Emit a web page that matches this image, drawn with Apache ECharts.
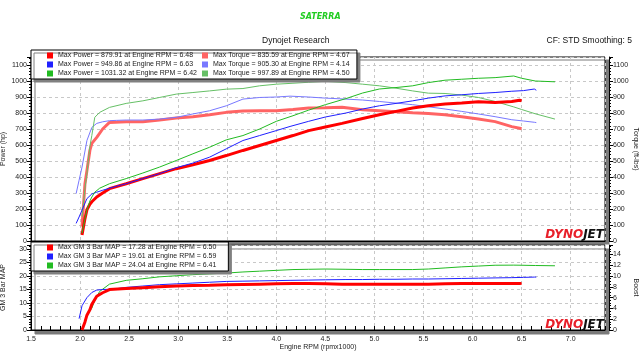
<!DOCTYPE html>
<html>
<head>
<meta charset="utf-8">
<script src="https://cdn.jsdelivr.net/npm/echarts@6/dist/echarts.min.js"></script>
<style>
  html, body { margin: 0; padding: 0; background: #fff; }
  #chart { width: 640px; height: 360px; }
</style>
</head>
<body>
<div id="chart"></div>
<script>
// run 1 (red)
const rpmRed = [2.02, 2.05, 2.07, 2.10, 2.12, 2.17, 2.23, 2.30, 2.47, 2.64, 2.81, 2.98, 3.15, 3.32, 3.49, 3.66, 3.83, 4.00, 4.17, 4.33, 4.50, 4.67, 4.88, 5.05, 5.22, 5.39, 5.55, 5.72, 5.89, 6.06, 6.23, 6.40, 6.48, 6.50]
const powerRed = [37, 140, 195, 230, 245, 275, 300, 327, 358, 390, 421, 452, 477, 503, 534, 566, 597, 628, 659, 690, 713, 735, 766, 789, 810, 831, 845, 856, 862, 870, 866, 872, 879.91, 876]
const torqueRed = [90, 358, 440, 566, 610, 648, 700, 741, 746, 746, 756, 769, 777, 789, 804, 812, 814, 814, 822, 831, 833, 835.59, 820, 814, 808, 802, 797, 789, 777, 762, 746, 715, 705, 702]
const mapRed = [0, 3, 5.5, 7.5, 9.5, 12.5, 13.8, 15.0, 15.4, 15.7, 16.0, 16.3, 16.5, 16.6, 16.8, 16.9, 17.0, 17.1, 17.2, 17.2, 17.1, 17.0, 17.0, 17.0, 17.0, 17.0, 17.0, 17.1, 17.2, 17.2, 17.2, 17.2, 17.2, 17.28]

// run 2 (blue)
const rpmBlue = [1.96, 1.99, 2.02, 2.07, 2.12, 2.17, 2.23, 2.30, 2.37, 2.47, 2.64, 2.81, 2.98, 3.15, 3.32, 3.49, 3.66, 3.83, 4.00, 4.14, 4.33, 4.50, 4.71, 4.88, 5.05, 5.22, 5.39, 5.55, 5.72, 5.89, 6.06, 6.23, 6.40, 6.52, 6.63, 6.65]
const powerBlue = [110, 150, 193, 265, 294, 305, 317, 330, 342, 358, 390, 421, 458, 487, 524, 576, 628, 659, 690, 716, 748, 775, 800, 825, 845, 860, 876, 893, 907, 914, 922, 928, 936, 940, 949.86, 942]
const torqueBlue = [296, 380, 462, 628, 710, 735, 745, 752, 754, 756, 756, 762, 773, 794, 814, 845, 887, 897, 900, 905.30, 900, 893, 887, 881, 872, 862, 852, 839, 825, 810, 794, 777, 758, 750, 742, 740]
const mapBlue = [null, 4.2, 9.0, 12.0, 13.9, 14.8, 15.0, 15.1, 15.3, 15.8, 16.3, 16.8, 17.1, 17.4, 17.7, 18.0, 18.1, 18.2, 18.3, 18.4, 18.5, 18.6, 18.7, 18.7, 18.8, 18.8, 18.9, 18.9, 19.0, 19.1, 19.2, 19.3, 19.4, 19.5, 19.61, 19.6]

// run 3 (green)
const rpmGreen = [2.02, 2.05, 2.07, 2.10, 2.12, 2.15, 2.20, 2.30, 2.47, 2.64, 2.81, 2.98, 3.15, 3.32, 3.49, 3.66, 3.83, 4.00, 4.17, 4.33, 4.50, 4.71, 4.88, 5.05, 5.22, 5.39, 5.55, 5.72, 5.89, 6.06, 6.23, 6.42, 6.50, 6.64, 6.84]
const powerGreen = [48, 140, 193, 250, 275, 305, 330, 358, 390, 425, 462, 503, 545, 586, 632, 659, 700, 748, 783, 818, 852, 890, 925, 950, 959, 970, 990, 1005, 1011, 1017, 1021, 1031.32, 1017, 1000, 995]
const torqueGreen = [151, 330, 420, 590, 660, 773, 804, 835, 860, 876, 897, 918, 928, 938, 949, 953, 970, 980, 986, 992, 997.89, 990, 980, 970, 955, 938, 924, 922, 912, 897, 872, 838, 822, 795, 762]
const mapGreen = [0, 3, 5.5, 7, 8.1, 11, 14.3, 17.0, 18.4, 19.0, 19.7, 20.1, 20.5, 20.8, 21.1, 21.5, 21.8, 22.1, 22.4, 22.5, 22.6, 22.5, 22.4, 22.4, 22.4, 22.4, 22.6, 23.0, 23.4, 23.7, 24.0, 24.04, 24.0, 23.9, 23.8]

const powerNames = [
    'Max Power = 879.91 at Engine RPM = 6.48',
    'Max Power = 949.86 at Engine RPM = 6.63',
    'Max Power = 1031.32 at Engine RPM = 6.42'
]
const torqueNames = [
    'Max Torque = 835.59 at Engine RPM = 4.67',
    'Max Torque = 905.30 at Engine RPM = 4.14',
    'Max Torque = 997.89 at Engine RPM = 4.50'
]
const mapNames = [
    'Max GM 3 Bar MAP = 17.28 at Engine RPM = 6.50',
    'Max GM 3 Bar MAP = 19.61 at Engine RPM = 6.59',
    'Max GM 3 Bar MAP = 24.04 at Engine RPM = 6.41'
]

const powerColors = ['#ff0000', '#2020ff', '#22bb22']
const torqueColors = ['#ff6464', '#7878ff', '#66c066']
const labelFont = 'Liberation Sans'

function zip(xs, ys){
    return xs.map((x, i) => [x, ys[i]])
}

const chartInstance = echarts.init(document.getElementById('chart'))

const valAxis = (extra) => Object.assign({
    type:'value',
    axisLine:{ show:true, lineStyle:{ color:'#000', width:1 } },
    axisTick:{ show:true, length:4, lineStyle:{ color:'#000' } },
    minorTick:{ show:true, splitNumber:5, length:2, lineStyle:{ color:'#000' } },
    axisLabel:{ fontSize:7, color:'#222', fontFamily:labelFont, margin:4, showMaxLabel:false,
                formatter:(v) => String(v) },
    splitLine:{ show:false },
    nameTextStyle:{ fontSize:7, color:'#222', fontFamily:labelFont },
    nameLocation:'middle',
    nameMoveOverlap:false
}, extra)

const dashed = { show:true, lineStyle:{ color:'#c8c8c8', type:[3,3], width:1 } }

const runs = [
    { rpm:rpmRed, power:powerRed, torque:torqueRed, map:mapRed, w:3 },
    { rpm:rpmBlue, power:powerBlue, torque:torqueBlue, map:mapBlue, w:1 },
    { rpm:rpmGreen, power:powerGreen, torque:torqueGreen, map:mapGreen, w:1 }
]

const series = []
runs.forEach((r, i) => {
    series.push({
        name:torqueNames[i], type:'line', xAxisIndex:0, yAxisIndex:1, symbol:'none',
        data:zip(r.rpm, r.torque), z:2,
        itemStyle:{ color:torqueColors[i] },
        lineStyle:{ color:torqueColors[i], width:i === 0 ? 3 : 1 }
    })
})
runs.forEach((r, i) => {
    series.push({
        name:powerNames[i], type:'line', xAxisIndex:0, yAxisIndex:0, symbol:'none',
        data:zip(r.rpm, r.power), z:3,
        itemStyle:{ color:powerColors[i] },
        lineStyle:{ color:powerColors[i], width:r.w }
    })
})
runs.forEach((r, i) => {
    series.push({
        name:mapNames[i], type:'line', xAxisIndex:1, yAxisIndex:2, symbol:'none',
        data:zip(r.rpm, r.map), z:3 - i * 0.1,
        itemStyle:{ color:powerColors[i] },
        lineStyle:{ color:powerColors[i], width:r.w }
    })
})

const legendBase = {
    orient:'vertical',
    icon:'rect',
    itemWidth:6,
    itemHeight:6,
    itemGap:2,
    selectedMode:false,
    textStyle:{ fontSize:7, color:'#222', fontFamily:labelFont }
}
const legendBox = {
    backgroundColor:'#fff',
    borderColor:'#000',
    borderWidth:1,
    shadowColor:'#808080',
    shadowOffsetX:3,
    shadowOffsetY:3,
    shadowBlur:0
}

const option = {
    backgroundColor:'#fff',
    animation:false,
    textStyle:{ fontFamily:labelFont },
    grid:[
        { left:31, right:35, top:57, height:184, outerBoundsMode:'none', show:true, backgroundColor:'#fff', borderColor:'#000', borderWidth:1,
          shadowColor:'#7a7a7a', shadowOffsetX:4, shadowOffsetY:3, shadowBlur:0 },
        { left:31, right:35, top:245, height:85, outerBoundsMode:'none', show:true, backgroundColor:'#fff', borderColor:'#000', borderWidth:1,
          shadowColor:'#7a7a7a', shadowOffsetX:4, shadowOffsetY:4, shadowBlur:0 }
    ],
    xAxis:[
        { type:'value', gridIndex:0, min:1.5, max:7.35, interval:0.5,
          axisLine:{ show:true, lineStyle:{ color:'#000' } }, axisTick:{ show:false }, axisLabel:{ show:false },
          splitLine:dashed },
        { type:'value', gridIndex:1, min:1.5, max:7.35, interval:0.5,
          name:'Engine RPM (rpmx1000)', nameLocation:'middle', nameGap:14, nameMoveOverlap:false,
          nameTextStyle:{ fontSize:7, color:'#222', fontFamily:labelFont },
          axisLine:{ show:true, lineStyle:{ color:'#000' } },
          axisTick:{ show:true, inside:true, length:4, lineStyle:{ color:'#000' } },
          minorTick:{ show:true, splitNumber:5, length:4, lineStyle:{ color:'#000' } },
          axisLabel:{ fontSize:7, color:'#222', fontFamily:labelFont, margin:6, showMaxLabel:false,
                      formatter:(v) => v.toFixed(1) },
          splitLine:dashed }
    ],
    yAxis:[
        valAxis({ gridIndex:0, min:0, max:1150, interval:100, position:'left', name:'Power (hp)', nameGap:24, nameRotate:90,
                  splitLine:dashed }),
        valAxis({ gridIndex:0, min:0, max:1150, interval:100, position:'right', offset:4, name:'Torque (ft-lbs)', nameGap:23, nameRotate:-90 }),
        valAxis({ gridIndex:1, min:0, max:31.5, interval:5, position:'left', name:'GM 3 Bar MAP', nameGap:24, nameRotate:90,
                  splitLine:dashed }),
        valAxis({ gridIndex:1, min:0, max:15.75, interval:2, position:'right', offset:4, name:'Boost', nameGap:23, nameRotate:-90,
                  minorTick:{ show:true, splitNumber:4, length:2, lineStyle:{ color:'#000' } } })
    ],
    legend:[
        Object.assign({}, legendBase, legendBox, { left:31, top:50, padding:[2,160,2,16], data:powerNames }),
        Object.assign({}, legendBase, { left:202, top:52, padding:0, data:torqueNames }),
        Object.assign({}, legendBase, legendBox, { left:31, top:242, padding:[2,12,2,16], data:mapNames })
    ],
    graphic:[
        { type:'text', left:300, top:13, style:{ text:'SATERRA', fill:'#22cc22', fontSize:8, fontWeight:'bold', fontStyle:'italic', fontFamily:'DejaVu Sans' } },
        { type:'text', left:262, top:36, style:{ text:'Dynojet Research', fill:'#111', fontSize:8.5, fontFamily:labelFont } },
        { type:'text', right:8, top:36, style:{ text:'CF: STD Smoothing: 5', fill:'#111', fontSize:8.5, fontFamily:labelFont } },
        { type:'text', right:36, top:229, z:10, style:{ text:'{a|DYNO}{b|JET}', rich:{ a:{ fill:'#e8202a' }, b:{ fill:'#111' } },
          fontSize:12, fontWeight:'bold', fontStyle:'italic', fontFamily:'DejaVu Sans' } },
        { type:'text', right:36, top:319, z:10, style:{ text:'{a|DYNO}{b|JET}', rich:{ a:{ fill:'#e8202a' }, b:{ fill:'#111' } },
          fontSize:12, fontWeight:'bold', fontStyle:'italic', fontFamily:'DejaVu Sans' } }
    ],
    series:series
}

chartInstance.setOption(option)
</script>
</body>
</html>
